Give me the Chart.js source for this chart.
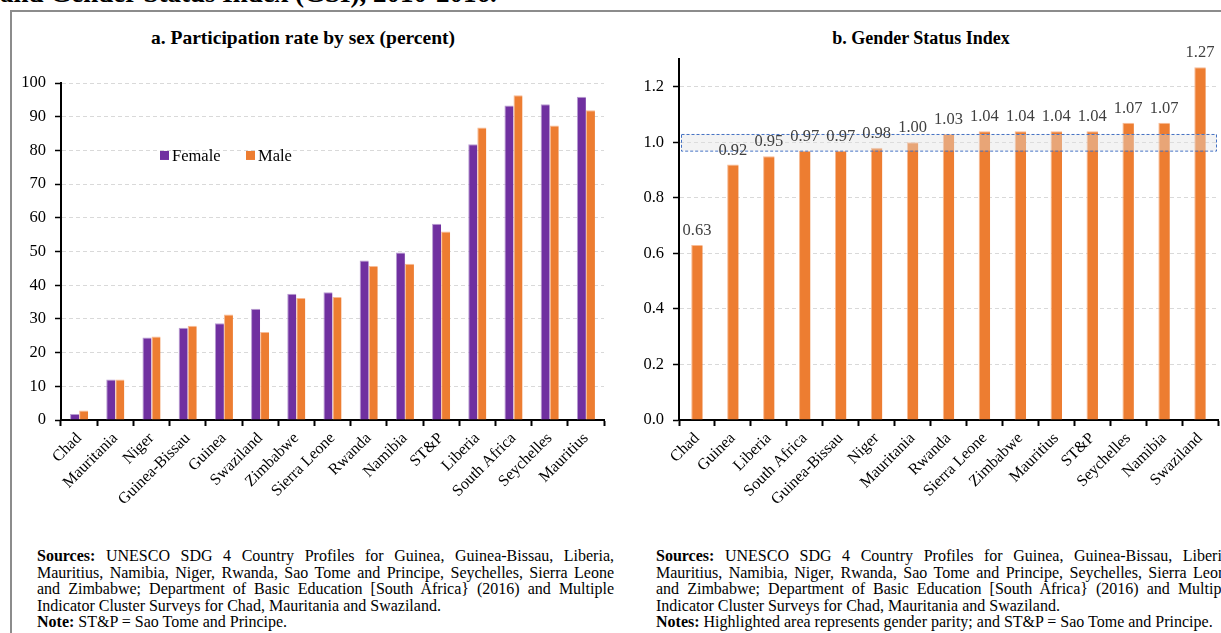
<!DOCTYPE html>
<html>
<head>
<meta charset="utf-8">
<script src="https://cdn.jsdelivr.net/npm/chart.js@4.4.1/dist/chart.umd.min.js"></script>
<style>
  body {
    margin: 0; width: 1221px; height: 633px; overflow: hidden; position: relative;
    background: #fff; color: #000;
    font-family: 'Liberation Serif', 'Times New Roman', serif;
  }
  .frame {
    position: absolute; left: 10px; top: 10px; width: 1300px; height: 700px;
    border: 2px solid #8c8c8c; box-sizing: border-box;
  }
  .heading {
    position: absolute; left: 0; top: -20px; font-size: 27px; font-weight: bold;
    line-height: 27px; white-space: nowrap;
  }
  .panel-title {
    position: absolute; top: 28px; font-size: 18.5px; font-weight: bold;
    line-height: 20px; text-align: center;
  }
  .chart-box { position: absolute; top: 30px; height: 490px; }
  .note { position: absolute; top: 548px; width: 577px; font-size: 16px; line-height: 16.5px; }
  .note div { white-space: nowrap; }
  .note .j { text-align: justify; text-align-last: justify; white-space: normal; }
</style>
</head>
<body>
<div class="heading">and Gender Status Index (GSI), 2010-2016.</div>
<div class="frame"></div>

<div class="panel-title" style="left:0;width:606px;font-size:19.5px">a. Participation rate by sex (percent)</div>
<div class="panel-title" style="left:616px;width:610px;font-size:18px">b. Gender Status Index</div>

<div class="chart-box" style="left:0;width:611px"><canvas id="chartA"></canvas></div>
<div class="chart-box" style="left:611px;width:610px"><canvas id="chartB"></canvas></div>

<div class="note" style="left:37px">
  <div class="j"><b>Sources:</b> UNESCO SDG 4 Country Profiles for Guinea, Guinea-Bissau, Liberia,</div>
  <div class="j">Mauritius, Namibia, Niger, Rwanda, Sao Tome and Principe, Seychelles, Sierra Leone</div>
  <div class="j">and Zimbabwe; Department of Basic Education [South Africa} (2016) and Multiple</div>
  <div>Indicator Cluster Surveys for Chad, Mauritania and Swaziland.</div>
  <div><b>Note:</b> ST&amp;P = Sao Tome and Principe.</div>
</div>
<div class="note" style="left:656px">
  <div class="j"><b>Sources:</b> UNESCO SDG 4 Country Profiles for Guinea, Guinea-Bissau, Liberia,</div>
  <div class="j">Mauritius, Namibia, Niger, Rwanda, Sao Tome and Principe, Seychelles, Sierra Leone</div>
  <div class="j">and Zimbabwe; Department of Basic Education [South Africa} (2016) and Multiple</div>
  <div>Indicator Cluster Surveys for Chad, Mauritania and Swaziland.</div>
  <div><b>Notes:</b> Highlighted area represents gender parity; and ST&amp;P = Sao Tome and Principe.</div>
</div>

<script>
// Panel a: participation rate by sex (percent)
const countriesA = ['Chad', 'Mauritania', 'Niger', 'Guinea-Bissau', 'Guinea', 'Swaziland', 'Zimbabwe',
  'Sierra Leone', 'Rwanda', 'Namibia', 'ST&P', 'Liberia', 'South Africa', 'Seychelles', 'Mauritius'];
const femaleRate = [1.8, 12.0, 24.5, 27.4, 28.7, 33.0, 37.5, 37.9, 47.3, 49.7, 58.2, 81.8, 93.3, 93.7, 95.9];
const maleRate   = [2.8, 12.0, 24.8, 28.0, 31.3, 26.1, 36.2, 36.5, 45.7, 46.4, 55.9, 86.8, 96.4, 87.4, 91.9];

// Panel b: gender status index
const countriesB = ['Chad', 'Guinea', 'Liberia', 'South Africa', 'Guinea-Bissau', 'Niger', 'Mauritania',
  'Rwanda', 'Sierra Leone', 'Zimbabwe', 'Mauritius', 'ST&P', 'Seychelles', 'Namibia', 'Swaziland'];
const gsiValues = [0.63, 0.92, 0.95, 0.97, 0.97, 0.98, 1.00, 1.03, 1.04, 1.04, 1.04, 1.04, 1.07, 1.07, 1.27];
const parityBand = [0.97, 1.03];

const serif = "'Liberation Serif', 'Times New Roman', serif";
const FEMALE = '#7030A0';
const MALE = '#ED7D31';
const GRID = '#d9d9d9';

function categoryAxis(height) {
    return {
        grid: { drawOnChartArea: false, offset: true, tickLength: 6, tickWidth: 2, tickColor: '#000', color: '#000' },
        border: { color: '#000', width: 2 },
        ticks: {
            autoSkip: false, maxRotation: 45, minRotation: 45, padding: 3,
            color: '#000', font: { family: serif, size: 16 }
        },
        afterFit(scale) { scale.height = height; }
    };
}

function valueAxis(width, extra) {
    return Object.assign({
        grid: {
            color: ctx => (ctx.tick && ctx.tick.value === 0) ? 'rgba(0,0,0,0)' : GRID,
            tickColor: '#000', tickLength: 6, tickWidth: 1.5, tickBorderDash: []
        },
        border: { color: '#000', width: 2, dash: [4, 3] },
        afterFit(scale) { scale.width = width; }
    }, extra);
}

// legend drawn inside the plot area
const insideLegend = {
    id: 'insideLegend',
    afterDraw(chart, args, opts) {
        const { ctx } = chart;
        const y = chart.scales.y.getPixelForValue(opts.atValue);
        let x = chart.chartArea.left + opts.offsetX;
        ctx.save();
        ctx.font = `16.5px ${serif}`;
        ctx.textBaseline = 'middle';
        chart.data.datasets.forEach(ds => {
            ctx.fillStyle = ds.backgroundColor;
            ctx.fillRect(x, y - 4.5, 9, 9);
            ctx.fillStyle = '#000';
            ctx.fillText(ds.label, x + 12, y + 1);
            x += 86;
        });
        ctx.restore();
    }
};

// parity band + value labels over the bars
const parityAndLabels = {
    id: 'parityAndLabels',
    afterDatasetsDraw(chart, args, opts) {
        const { ctx, chartArea, scales: { y } } = chart;
        const top = y.getPixelForValue(opts.band[1]);
        const bottom = y.getPixelForValue(opts.band[0]);
        ctx.save();
        ctx.fillStyle = 'rgba(224,224,224,0.4)';
        ctx.fillRect(chartArea.left + 2, top, chartArea.right - chartArea.left - 3, bottom - top);
        ctx.strokeStyle = '#4472C4';
        ctx.lineWidth = 1;
        ctx.setLineDash([3, 2]);
        ctx.strokeRect(chartArea.left + 2.5, top + 0.5, chartArea.right - chartArea.left - 4, bottom - top);
        ctx.setLineDash([]);

        ctx.font = `16.5px ${serif}`;
        ctx.fillStyle = '#404040';
        ctx.textAlign = 'center';
        ctx.textBaseline = 'alphabetic';
        const data = chart.data.datasets[0].data;
        chart.getDatasetMeta(0).data.forEach((bar, i) => {
            ctx.fillText(data[i].toFixed(2), bar.x, bar.y - 10);
        });
        ctx.restore();
    }
};

new Chart(document.getElementById('chartA'), {
    type: 'bar',
    data: {
        labels: countriesA,
        datasets: [
            { label: 'Female', data: femaleRate, backgroundColor: FEMALE,
              borderColor: '#b89dd1', borderWidth: { top: 1, left: 1, right: 0, bottom: 0 } },
            { label: 'Male', data: maleRate, backgroundColor: MALE,
              borderColor: '#f7bb95', borderWidth: { top: 1, left: 1, right: 0, bottom: 0 } }
        ]
    },
    options: {
        responsive: true,
        maintainAspectRatio: false,
        animation: false,
        layout: { padding: { top: 53, right: 7, left: 0, bottom: 0 } },
        datasets: { bar: { categoryPercentage: 0.5, barPercentage: 1.0 } },
        plugins: {
            legend: { display: false },
            tooltip: { enabled: false },
            insideLegend: { atValue: 78.5, offsetX: 99 }
        },
        scales: {
            x: categoryAxis(100),
            y: valueAxis(61, {
                min: 0, max: 100,
                ticks: { stepSize: 10, padding: 9, color: '#000', font: { family: serif, size: 16.5 } }
            })
        }
    },
    plugins: [insideLegend]
});

new Chart(document.getElementById('chartB'), {
    type: 'bar',
    data: {
        labels: countriesB,
        datasets: [
            { label: 'GSI', data: gsiValues, backgroundColor: MALE,
              borderColor: '#f7bb95', borderWidth: { top: 1, left: 1, right: 0, bottom: 0 } }
        ]
    },
    options: {
        responsive: true,
        maintainAspectRatio: false,
        animation: false,
        layout: { padding: { top: 29, right: 3, left: 0, bottom: 0 } },
        datasets: { bar: { categoryPercentage: 1.0, barPercentage: 0.32 } },
        plugins: {
            legend: { display: false },
            tooltip: { enabled: false },
            parityAndLabels: { band: parityBand }
        },
        scales: {
            x: categoryAxis(100),
            y: valueAxis(68, {
                min: 0, max: 1.3,
                ticks: {
                    stepSize: 0.2, padding: 9, color: '#000', font: { family: serif, size: 16.5 },
                    callback: v => Number(v).toFixed(1)
                },
                afterBuildTicks(scale) {
                    scale.ticks = scale.ticks.filter(t => t.value <= 1.2001);
                }
            })
        }
    },
    plugins: [parityAndLabels]
});
</script>
</body>
</html>
